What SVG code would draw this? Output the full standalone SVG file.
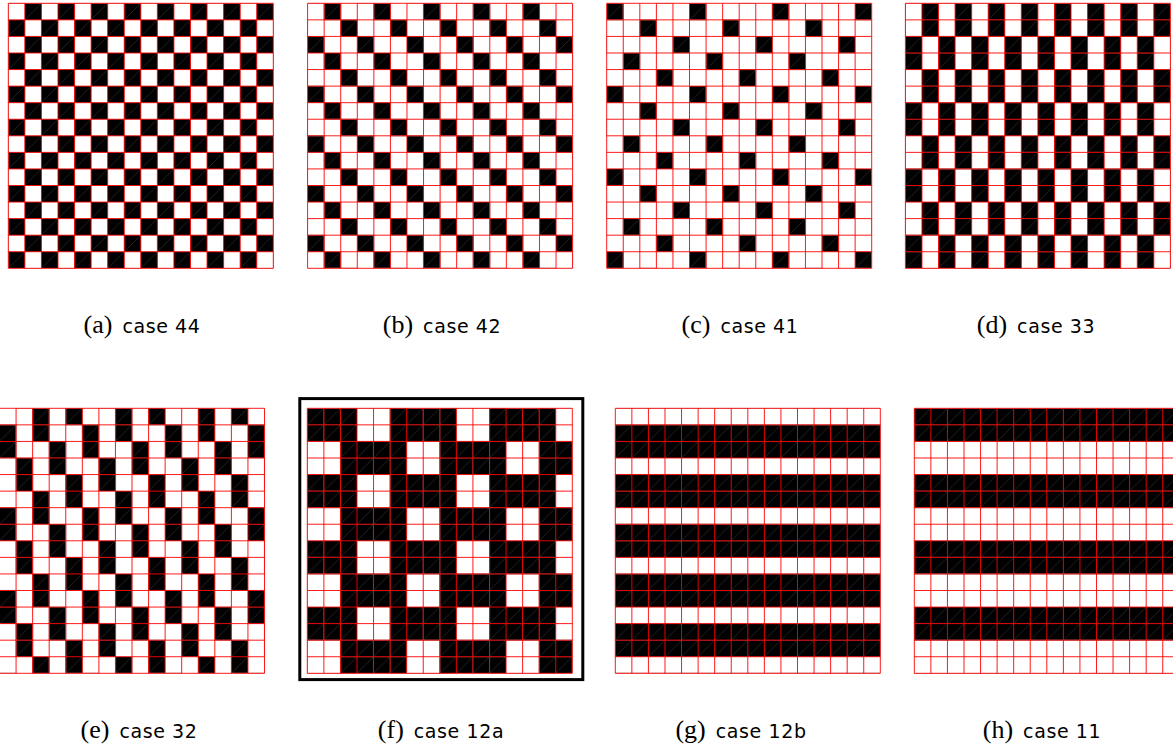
<svg xmlns="http://www.w3.org/2000/svg" xmlns:xlink="http://www.w3.org/1999/xlink" width="1173" height="750" viewBox="0 0 1173 750">
<style>
.bg{fill:#fff}
.grid{fill:none;stroke:#f00;stroke-width:1;stroke-opacity:0.9}
.lbl{font-size:18px;fill:#000}
.ser{font-family:"Liberation Serif","DejaVu Serif",serif;font-size:26px}
.sans{font-family:"DejaVu Sans","Liberation Sans",sans-serif;font-size:19px;letter-spacing:0.6px}
.frame{fill:none;stroke:#000;stroke-width:3}
</style>
<defs>
<g id="bc"><rect width="16.5625" height="16.5625" fill="#000"/><path d="M0 16.5625L16.5625 0" stroke="#3a3a3a" stroke-width="0.6"/></g>
<path id="grid" class="grid" d="M0 0V265M16.5625 0V265M33.125 0V265M49.6875 0V265M66.25 0V265M82.8125 0V265M99.375 0V265M115.9375 0V265M132.5 0V265M149.0625 0V265M165.625 0V265M182.1875 0V265M198.75 0V265M215.3125 0V265M231.875 0V265M248.4375 0V265M265 0V265M0 0H265M0 16.5625H265M0 33.125H265M0 49.6875H265M0 66.25H265M0 82.8125H265M0 99.375H265M0 115.9375H265M0 132.5H265M0 149.0625H265M0 165.625H265M0 182.1875H265M0 198.75H265M0 215.3125H265M0 231.875H265M0 248.4375H265M0 265H265"/>
<pattern id="pa" patternUnits="userSpaceOnUse" width="33.125" height="33.125">
<use xlink:href="#bc" x="16.5625" y="0"/><use xlink:href="#bc" x="0" y="16.5625"/>
</pattern>
<pattern id="pb" patternUnits="userSpaceOnUse" width="49.6875" height="49.6875">
<use xlink:href="#bc" x="16.5625" y="0"/><use xlink:href="#bc" x="33.125" y="16.5625"/><use xlink:href="#bc" x="0" y="33.125"/>
</pattern>
<pattern id="pc" patternUnits="userSpaceOnUse" width="82.8125" height="82.8125">
<use xlink:href="#bc" x="0" y="0"/><use xlink:href="#bc" x="33.125" y="16.5625"/><use xlink:href="#bc" x="66.25" y="33.125"/><use xlink:href="#bc" x="16.5625" y="49.6875"/><use xlink:href="#bc" x="49.6875" y="66.25"/>
</pattern>
<pattern id="pd" patternUnits="userSpaceOnUse" width="33.125" height="66.25">
<use xlink:href="#bc" x="16.5625" y="0"/><use xlink:href="#bc" x="16.5625" y="16.5625"/><use xlink:href="#bc" x="0" y="33.125"/><use xlink:href="#bc" x="0" y="49.6875"/>
</pattern>
<pattern id="pe" patternUnits="userSpaceOnUse" width="82.8125" height="82.8125">
<use xlink:href="#bc" x="33.125" y="0"/><use xlink:href="#bc" x="66.25" y="0"/>
<use xlink:href="#bc" x="0" y="16.5625"/><use xlink:href="#bc" x="33.125" y="16.5625"/>
<use xlink:href="#bc" x="0" y="33.125"/><use xlink:href="#bc" x="49.6875" y="33.125"/>
<use xlink:href="#bc" x="16.5625" y="49.6875"/><use xlink:href="#bc" x="49.6875" y="49.6875"/>
<use xlink:href="#bc" x="16.5625" y="66.25"/><use xlink:href="#bc" x="66.25" y="66.25"/>
</pattern>
<pattern id="pf" patternUnits="userSpaceOnUse" width="99.375" height="66.25">
<use xlink:href="#bc" x="0" y="0"/><use xlink:href="#bc" x="16.5625" y="0"/><use xlink:href="#bc" x="33.125" y="0"/><use xlink:href="#bc" x="82.8125" y="0"/>
<use xlink:href="#bc" x="0" y="16.5625"/><use xlink:href="#bc" x="16.5625" y="16.5625"/><use xlink:href="#bc" x="33.125" y="16.5625"/><use xlink:href="#bc" x="82.8125" y="16.5625"/>
<use xlink:href="#bc" x="33.125" y="33.125"/><use xlink:href="#bc" x="49.6875" y="33.125"/><use xlink:href="#bc" x="66.25" y="33.125"/><use xlink:href="#bc" x="82.8125" y="33.125"/>
<use xlink:href="#bc" x="33.125" y="49.6875"/><use xlink:href="#bc" x="49.6875" y="49.6875"/><use xlink:href="#bc" x="66.25" y="49.6875"/><use xlink:href="#bc" x="82.8125" y="49.6875"/>
</pattern>
<pattern id="pg" patternUnits="userSpaceOnUse" width="16.5625" height="49.6875">
<use xlink:href="#bc" x="0" y="16.5625"/><use xlink:href="#bc" x="0" y="33.125"/>
</pattern>
<pattern id="ph" patternUnits="userSpaceOnUse" width="16.5625" height="66.25">
<use xlink:href="#bc" x="0" y="0"/><use xlink:href="#bc" x="0" y="16.5625"/>
</pattern>
</defs>

<g id="panel-a">
<g transform="translate(8.3,3.3)"><rect class="bg" width="265" height="265"/><rect width="265" height="265" fill="url(#pa)"/><use xlink:href="#grid"/></g>
<text class="lbl" x="142" y="333" text-anchor="middle"><tspan class="ser">(a)</tspan><tspan class="sans" dx="10">case 44</tspan></text>
</g>
<g id="panel-b">
<g transform="translate(307.6,3.3)"><rect class="bg" width="265" height="265"/><rect width="265" height="265" fill="url(#pb)"/><use xlink:href="#grid"/></g>
<text class="lbl" x="442" y="333" text-anchor="middle"><tspan class="ser">(b)</tspan><tspan class="sans" dx="10">case 42</tspan></text>
</g>
<g id="panel-c">
<g transform="translate(606.7,3.3)"><rect class="bg" width="265" height="265"/><rect width="265" height="265" fill="url(#pc)"/><use xlink:href="#grid"/></g>
<text class="lbl" x="740" y="333" text-anchor="middle"><tspan class="ser">(c)</tspan><tspan class="sans" dx="10">case 41</tspan></text>
</g>
<g id="panel-d">
<g transform="translate(905.4,3.3)"><rect class="bg" width="265" height="265"/><rect width="265" height="265" fill="url(#pd)"/><use xlink:href="#grid"/></g>
<text class="lbl" x="1036" y="333" text-anchor="middle"><tspan class="ser">(d)</tspan><tspan class="sans" dx="10">case 33</tspan></text>
</g>

<g id="panel-e">
<g transform="translate(-0.5,408.3)"><rect class="bg" width="265" height="265"/><rect width="265" height="265" fill="url(#pe)"/><use xlink:href="#grid"/></g>
<text class="lbl" x="139" y="738" text-anchor="middle"><tspan class="ser">(e)</tspan><tspan class="sans" dx="10">case 32</tspan></text>
</g>
<g id="panel-f">
<rect class="frame" x="299.8" y="398.6" width="283" height="281"/>
<g transform="translate(307.3,408.3)"><rect class="bg" width="265" height="265"/><rect width="265" height="265" fill="url(#pf)"/><use xlink:href="#grid"/></g>
<text class="lbl" x="441" y="738" text-anchor="middle"><tspan class="ser">(f)</tspan><tspan class="sans" dx="10">case 12a</tspan></text>
</g>
<g id="panel-g">
<g transform="translate(615.3,408.3)"><rect class="bg" width="265" height="265"/><rect width="265" height="265" fill="url(#pg)"/><use xlink:href="#grid"/></g>
<text class="lbl" x="741" y="738" text-anchor="middle"><tspan class="ser">(g)</tspan><tspan class="sans" dx="10">case 12b</tspan></text>
</g>
<g id="panel-h">
<g transform="translate(914.3,408.3)"><rect class="bg" width="265" height="265"/><rect width="265" height="265" fill="url(#ph)"/><use xlink:href="#grid"/></g>
<text class="lbl" x="1042" y="738" text-anchor="middle"><tspan class="ser">(h)</tspan><tspan class="sans" dx="10">case 11</tspan></text>
</g>
<g id="connectors"/>
</svg>
